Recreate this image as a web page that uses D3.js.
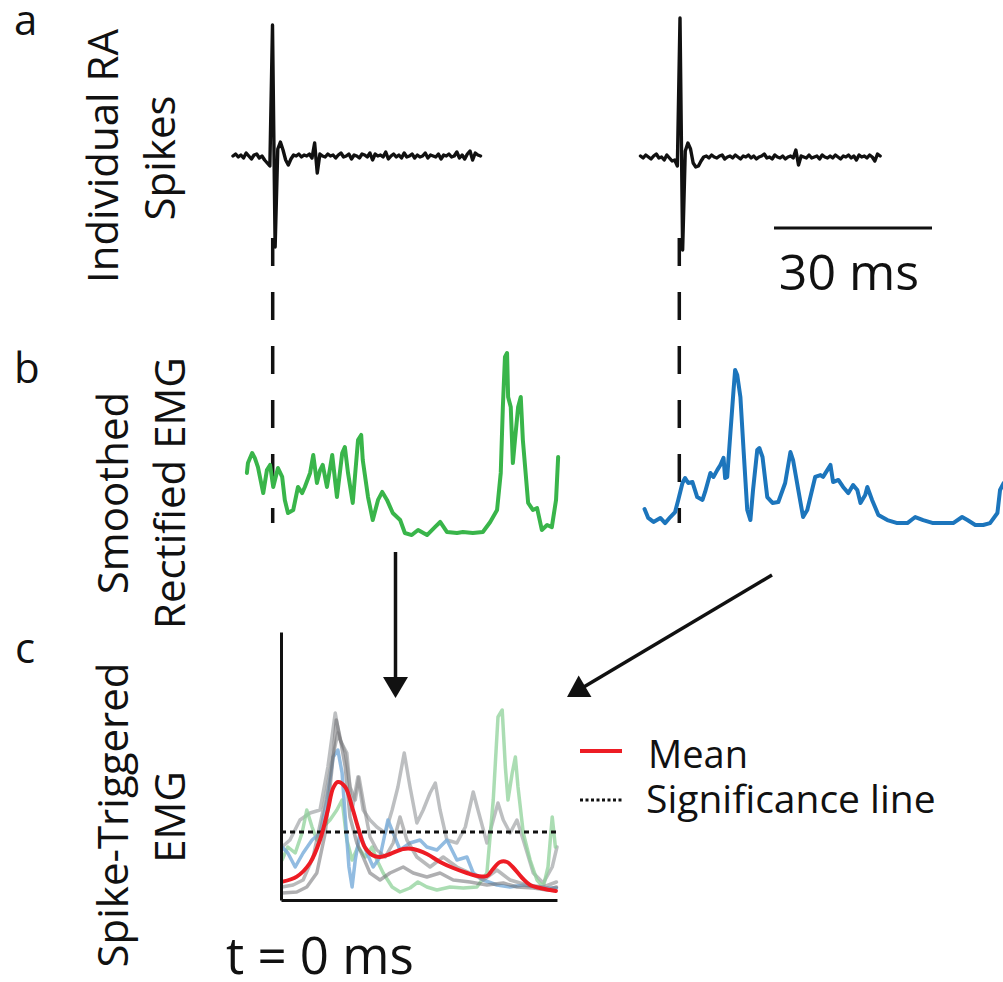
<!DOCTYPE html>
<html>
<head>
<meta charset="utf-8">
<script src="https://cdn.jsdelivr.net/npm/d3@7"></script>
<style>
  html, body { margin: 0; padding: 0; background: #fff; }
  svg { display: block; }
  text { font-family: "Open Sans", "Noto Sans", sans-serif; fill: #111; }
</style>
</head>
<body>
<svg id="chart" width="1003" height="982"></svg>
<script>
// ---------------- DATA ----------------
// Raw RA spike traces (arbitrary units, sampled every 0.5 ms; spike at index 15 = t 0)
const spikeDt = 0.5;
const spikeOnset = 15;
const spikeA = [0,2,-1,1,-2,3,0,-3,1,2,-2,0,-4,-7,-10,
  131,-91,
  7,14,6,-4,-9,-3,1,0,2,-1,1,0,2,-2,
  13,-17,
  2,0,-1,2,0,1,-2,1,3,-1, 0,2,-3,1,0,-2,2,1,-1,3, -4,2,0,1,-1,4,-3,0,2,-1,
  1,-2,3,-1,0,2,-2,1,-1,0, 3,-2,1,0,-1,2,-3,1,0,2, -1,0,4,-2,1,-3,2,5,-4,3, 1,0];
const spikeB = [1,-1,2,0,-2,1,3,-1,0,-3,2,-1,-4,-3,-9,
  139,-93,
  6,14,8,-6,-10,-9,-4,0,1,-1,2,0,-1,1,
  2,-2,0,1,-1,2,0,-2,1,0, 2,-1,1,-2,0,1,3,-1,0,-2, 2,0,-1,1,-2,0,1,-1,7,-8,
  1,0,-1,2,-1,0,1,-2,2,0, -1,1,-1,2,0,-2,1,0,2,-1, 1,-3,2,0,1,-1,2,0,-4,3, 1];

// Smoothed rectified EMG [time ms relative to spike, amplitude a.u.]
const emgGreen = [[-4.9,35.3],[-4.7,40.5],[-3.9,45.8],[-3.4,43.2],[-2.8,38.4],[-1.8,24.7],[-1.1,36.8],[-0.5,39.5],
  [0.1,27.9],[1.0,37.9],[1.8,33.2],[2.3,21.1],[2.9,14.2],[3.9,15.8],[4.8,27.9],[5.6,24.7],[6.1,27.9],[7.1,35.3],
  [7.7,44.7],[8.4,30.0],[9.0,36.8],[9.5,39.5],[10.3,27.9],[11.3,44.7],[12.2,22.6],[13.2,45.8],[13.7,48.9],[14.3,35.3],
  [15.2,19.5],[16.2,52.6],[16.8,55.3],[17.1,42.1],[18.1,22.6],[19.0,10.5],[20.0,21.1],[20.8,25.3],[21.7,21.1],
  [22.8,14.2],[24.2,10.5],[25.1,3.7],[26.4,2.6],[27.6,5.3],[29.3,2.6],[30.8,6.8],[31.8,9.5],[33.1,4.2],[35.0,3.7],
  [36.1,4.2],[38.0,3.7],[39.9,4.2],[41.3,9.5],[42.6,15.8],[43.3,35.3],[43.7,70.0],[44.1,96.3],[44.5,98.4],[44.7,75.3],
  [45.2,70.0],[45.6,40.5],[46.0,52.6],[46.6,70.0],[47.1,75.3],[47.5,52.6],[48.5,19.5],[49.4,15.8],[50.2,16.8],
  [51.1,5.3],[52.1,7.9],[53.0,6.8],[53.8,21.1],[54.2,43.7]];
const emgBlue = [[-6.6,16.3],[-5.9,11.6],[-4.9,9.5],[-3.6,11.6],[-2.7,8.9],[-1.7,12.1],[-0.8,14.7],[-0.2,21.1],
  [0.6,30.0],[1.1,32.6],[1.7,30.0],[2.5,30.5],[3.4,22.6],[4.4,21.1],[4.9,25.3],[5.9,35.3],[6.5,33.2],[7.2,36.8],
  [7.8,39.5],[8.4,43.2],[8.7,32.6],[9.1,33.2],[9.7,56.3],[10.3,78.9],[10.6,89.5],[11.0,86.8],[11.6,75.3],[12.2,47.4],
  [12.9,15.8],[13.5,10.5],[14.0,26.3],[14.8,47.4],[15.2,48.4],[15.8,43.7],[16.7,22.6],[17.7,19.5],[18.8,20.0],
  [20.1,30.0],[21.1,46.3],[21.6,42.1],[22.6,26.3],[23.5,12.1],[24.3,15.8],[25.8,33.2],[26.8,34.2],[27.3,33.2],
  [28.1,36.8],[28.7,39.5],[29.2,30.5],[30.2,31.6],[31.1,27.9],[32.1,24.7],[33.0,28.9],[33.8,26.3],[34.4,19.5],
  [35.3,23.7],[35.7,27.9],[36.6,21.1],[37.8,13.2],[39.5,10.5],[41.4,8.9],[43.3,8.9],[44.8,12.1],[46.3,10.5],
  [48.2,8.9],[50.1,8.9],[52.0,8.9],[53.7,12.1],[54.7,10.5],[56.2,7.9],[57.7,7.9],[59.0,8.9],[60.4,14.2],
  [60.9,26.3],[61.6,30.0]];

// Spike-triggered EMG traces [time ms after spike, amplitude a.u.]
const staGray1 = [[0.2,26.5],[1.7,30],[3.6,40],[5.5,43.5],[7.4,45],[8.9,66.5],[10.3,93.5],[11.2,80],[12.5,73.5],
  [13.5,45],[14.6,61.5],[15.6,45],[16.9,40],[18.2,36.5],[19.8,33.5],[21.1,45],[22.2,56.5],[23.4,73.5],[24.5,56.5],
  [25.8,38.5],[27.0,45],[28.3,53.5],[29.3,58.5],[30.2,45],[31.5,30],[33.4,28.5],[35.0,36.5],[36.5,54],[37.4,45],
  [39.1,28.5],[40.3,40],[41.2,48.5],[42.2,40],[43.5,33.5],[44.8,40],[46.0,30],[47.9,13.5],[49.8,8.5],[51.5,16.5],[52.4,26.5]];
const staGray2 = [[0.2,3.5],[3.0,4],[4.9,6.5],[6.8,13.5],[8.4,33.5],[9.7,66.5],[10.5,90],[11.2,81.5],[12.2,66.5],
  [13.1,41.5],[14.4,28.5],[15.6,21.5],[16.9,13.5],[18.8,10],[20.7,13.5],[23.2,16.5],[25.1,13.5],[27.7,11.5],
  [30.2,13.5],[32.7,10],[35.9,9],[39.1,7.5],[42.2,8.5],[44.8,6.5],[47.9,6],[50.5,5],[52.3,6.5]];
const staGray3 = [[0.2,6.5],[2.3,7.5],[4.2,10],[6.1,21.5],[8.0,45],[9.7,70],[10.8,83.5],[12.2,73.5],[13.1,56.5],
  [14.1,50],[14.8,61.5],[15.8,46.5],[16.9,31.5],[18.2,25],[19.8,21.5],[21.3,28.5],[22.6,41.5],[23.9,30],[25.8,21.5],
  [28.3,16.5],[30.8,21.5],[33.4,16.5],[35.9,13.5],[38.4,10],[41.0,15],[43.5,10],[46.7,7.5],[49.8,6.5],[52.3,9]];
const staBlue = [[0.2,26.5],[1.3,23.5],[2.7,16.5],[4.2,23.5],[5.9,30],[7.4,33.5],[8.7,50],[9.9,71.5],[10.8,75],
  [11.6,63.5],[12.2,41.5],[12.9,16.5],[13.5,6.5],[14.1,20],[15.0,33.5],[16.3,23.5],[17.5,16.5],[18.8,21.5],[20.3,40],
  [21.3,33.5],[22.6,25],[24.5,28.5],[26.4,30],[27.7,26.5],[29.6,25],[31.5,30],[33.4,20],[35.3,21.5],[36.5,13.5],
  [38.4,10],[41.0,7.5],[43.5,6.5],[46.0,7.5],[48.6,6.5],[51.1,6],[52.3,6]];
const staGreen = [[0.2,20],[1.3,26.5],[2.7,23.5],[4.0,33.5],[4.9,45],[5.9,36.5],[6.8,30],[8.0,36.5],[9.3,40],
  [10.6,45],[11.6,50],[12.5,30],[13.5,20],[14.6,26.5],[16.0,21.5],[17.3,26.5],[18.2,20],[19.4,13.5],[21.1,6.5],
  [22.6,4],[24.5,6],[26.0,9],[27.7,6.5],[29.6,5],[32.1,6.5],[34.6,6],[37.2,6.5],[39.1,13.5],[40.3,50],[41.2,91.5],
  [42.0,95],[42.6,66.5],[43.1,50],[43.9,63.5],[44.5,71.5],[45.0,56.5],[46.0,33.5],[47.3,20],[48.6,10],[49.8,6.5],
  [50.7,16.5],[51.5,41.5],[52.1,26.5]];
const staMean = [[0.3,9.2],[3.0,11.7],[5.5,18.5],[7.4,30],[8.9,45],[9.9,56],[10.8,59],[12.2,56.5],[13.5,46.5],
  [14.6,36.5],[15.9,26.5],[17.3,22.5],[18.8,21.5],[20.7,23],[23.2,25.5],[25.1,25.5],[27.7,23],[30.2,19],[32.7,16],
  [35.3,13.5],[37.4,12],[39.1,12],[40.1,15],[41.6,19],[42.9,19],[44.0,16.5],[45.8,11],[47.3,7.5],[49.2,6],
  [51.1,5],[52.2,4.5]];
const significance = 34;
const staDomainT = [0, 52.4];
const staDomainV = [0, 134];
const scaleBarMs = 30;

const panelLetters = ["a", "b", "c"];
const rowLabels = [["Individual RA", "Spikes"], ["Smoothed", "Rectified EMG"], ["Spike-Triggered", "EMG"]];
const legendLabels = ["Mean", "Significance line"];
const scaleBarLabel = "30 ms";
const timeLabel = "t = 0 ms";

// ---------------- DRAWING ----------------
const svg = d3.select("#chart");
svg.append("rect").attr("width", 1003).attr("height", 982).attr("fill", "#fff");

const PX_PER_MS = 158 / 30;
const timeScale = (zeroPx) => d3.scaleLinear().domain([0, 30]).range([zeroPx, zeroPx + 30 * PX_PER_MS]);

// Panel a: spikes
const spikeYA = d3.scaleLinear().domain([-100, 140]).range([256, 16]);
const spikeYB = d3.scaleLinear().domain([-100, 140]).range([257, 17]);
const spikeXA = timeScale(272.5), spikeXB = timeScale(680);
function drawSpike(data, xs, ys) {
  const line = d3.line().x((d, i) => xs((i - spikeOnset) * spikeDt)).y(d => ys(d));
  svg.append("path").attr("d", line(data)).attr("fill", "none").attr("stroke", "#111")
    .attr("stroke-width", 3.4).attr("stroke-linejoin", "round").attr("stroke-linecap", "round");
}
drawSpike(spikeA, spikeXA, spikeYA);
drawSpike(spikeB, spikeXB, spikeYB);

// Scale bar
const barX = d3.scaleLinear().domain([0, scaleBarMs]).range([774, 774 + scaleBarMs * PX_PER_MS]);
svg.append("line").attr("x1", barX(0)).attr("x2", barX(scaleBarMs)).attr("y1", 228).attr("y2", 228)
  .attr("stroke", "#111").attr("stroke-width", 3);
svg.append("text").attr("x", (barX(0) + barX(scaleBarMs)) / 2 - 4).attr("y", 290).attr("text-anchor", "middle")
  .attr("font-size", 50).text(scaleBarLabel);

// Panel b: EMG
const emgY = d3.scaleLinear().domain([0, 100]).range([540, 350]);
const emgXG = timeScale(272.7), emgXB = timeScale(679.3);

// dashed spike-time lines
[[emgXG, 0], [emgXB, 0]].forEach(([xs, t]) => {
  svg.append("line").attr("x1", xs(t)).attr("x2", xs(t)).attr("y1", 238).attr("y2", 523)
    .attr("stroke", "#111").attr("stroke-width", 3.5).attr("stroke-dasharray", "28,26");
});

function drawTrace(data, xs, ys, color, width, opacity, curve) {
  const line = d3.line().x(d => xs(d[0])).y(d => ys(d[1])).curve(curve || d3.curveLinear);
  svg.append("path").attr("d", line(data)).attr("fill", "none").attr("stroke", color)
    .attr("stroke-width", width).attr("stroke-opacity", opacity)
    .attr("stroke-linejoin", "round").attr("stroke-linecap", "round");
}
drawTrace(emgGreen, emgXG, emgY, "#39b54a", 4, 1);
drawTrace(emgBlue, emgXB, emgY, "#1c75bc", 4, 1);

// Panel c: STA
const staX = d3.scaleLinear().domain(staDomainT).range([281, 281 + staDomainT[1] * PX_PER_MS]);
const staY = d3.scaleLinear().domain(staDomainV).range([900, 632]);
drawTrace(staGray1, staX, staY, "#a7a9ac", 3.5, 0.75);
drawTrace(staGreen, staX, staY, "#8fd19a", 3.5, 0.75);
drawTrace(staBlue, staX, staY, "#7fb0dc", 3.5, 0.85);
drawTrace(staGray3, staX, staY, "#8a8c8e", 3.5, 0.6);
drawTrace(staGray2, staX, staY, "#6d6e71", 3.5, 0.55);

// significance line
svg.append("line").attr("x1", staX(staDomainT[0])).attr("x2", staX(staDomainT[1]))
  .attr("y1", staY(significance)).attr("y2", staY(significance))
  .attr("stroke", "#111").attr("stroke-width", 3).attr("stroke-dasharray", "5,4");

drawTrace(staMean, staX, staY, "#ed1c24", 4, 1, d3.curveCatmullRom);

// axes (no ticks)
svg.append("g").attr("transform", `translate(${staX(0)},0)`)
  .call(d3.axisLeft(staY).tickValues([]).tickSizeOuter(0))
  .select(".domain").attr("stroke", "#111").attr("stroke-width", 3);
svg.append("g").attr("transform", `translate(0,${staY(0)})`)
  .call(d3.axisBottom(staX).tickValues([]).tickSizeOuter(0))
  .select(".domain").attr("stroke", "#111").attr("stroke-width", 3);

// Arrows
function arrow(x1, y1, x2, y2) {
  const ang = Math.atan2(y2 - y1, x2 - x1);
  const L = 21, W = 12.5;
  const bx = x2 - L * Math.cos(ang), by = y2 - L * Math.sin(ang);
  svg.append("line").attr("x1", x1).attr("y1", y1).attr("x2", bx + 2 * Math.cos(ang)).attr("y2", by + 2 * Math.sin(ang))
    .attr("stroke", "#111").attr("stroke-width", 3.5);
  const px = -Math.sin(ang) * W, py = Math.cos(ang) * W;
  svg.append("path").attr("d", `M${x2},${y2}L${bx + px},${by + py}L${bx - px},${by - py}Z`).attr("fill", "#111");
}
arrow(395.5, 552, 395.5, 698);
arrow(772, 575, 567, 697);

// Legend
svg.append("line").attr("x1", 580).attr("x2", 622).attr("y1", 751).attr("y2", 751)
  .attr("stroke", "#ed1c24").attr("stroke-width", 4);
svg.append("line").attr("x1", 580).attr("x2", 622).attr("y1", 800).attr("y2", 800)
  .attr("stroke", "#111").attr("stroke-width", 3).attr("stroke-dasharray", "3,2.5");
svg.append("text").attr("x", 648).attr("y", 768).attr("font-size", 38).text(legendLabels[0]);
svg.append("text").attr("x", 646).attr("y", 813).attr("font-size", 39).text(legendLabels[1]);

// Panel letters
const letterPos = [[14, 35], [14, 383], [15, 663]];
panelLetters.forEach((l, i) => {
  svg.append("text").attr("x", letterPos[i][0]).attr("y", letterPos[i][1]).attr("font-size", 42).text(l);
});

// Row labels (rotated)
const labelPos = [[[118, 156], [175, 158]], [[128, 493], [185, 493]], [[128, 815], [185, 817]]];
rowLabels.forEach((lines, r) => {
  lines.forEach((txt, k) => {
    const [x, y] = labelPos[r][k];
    svg.append("text").attr("transform", `translate(${x},${y}) rotate(-90)`)
      .attr("text-anchor", "middle").attr("font-size", 42).text(txt);
  });
});

// t = 0 label
svg.append("text").attr("x", 226).attr("y", 974).attr("font-size", 51).text(timeLabel);
</script>
</body>
</html>
